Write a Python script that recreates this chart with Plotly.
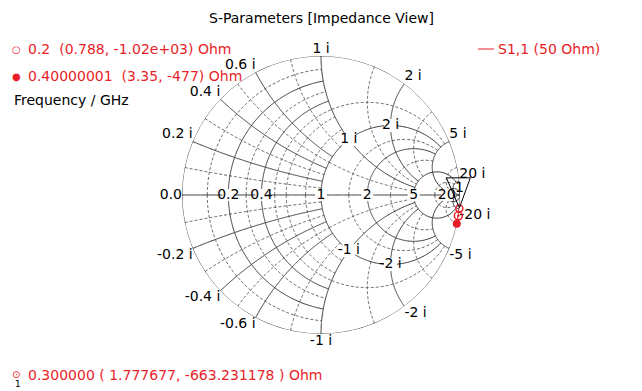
import numpy as np
import plotly.graph_objects as go

# ---------------- data ----------------
Z0 = 50.0
freq_ghz = [0.2, 0.3, 0.4]
freq_label = ["0.2", "0.300000", "0.40000001"]
res_ohm = [0.788, 1.777677, 3.35]
reac_ohm = [-1020.0, -663.231178, -477.0]

real_ticks = [0.2, 0.4, 1, 2, 5, 20]
imag_ticks = [0.2, 0.4, 0.6, 1, 2, 5, 20]
inner_imag_ticks = [1, 2]

INF = 1e6
# grid arcs: (value, lo, hi) -> r circle drawn for lo<=|x|<=hi ; x arc drawn for lo<=r<=hi
r_solid = [(0.2, 0, 1), (0.4, 0, 1), (1, 0, 5), (2, 0, 5), (5, 0, 20), (20, 0, INF)]
x_solid = [(0.2, 0, 1), (0.4, 0, 1), (0.6, 0, 1), (1, 0, 5), (2, 0, 5), (5, 0, 20), (20, 0, INF)]
r_dash = [(0.1, 0, 1), (0.3, 0, 1), (0.5, 0, 1), (0.6, 0, 1), (0.8, 0, 1),
          (0.5, 1, 5), (1.5, 0, 5), (3, 0, 5), (10, 0, 20)]
x_dash = [(0.1, 0, 1), (0.3, 0, 1), (0.5, 0, 1), (0.8, 0, 1),
          (0.5, 1, 5), (1.5, 0, 5), (3, 0, 5), (10, 0, 20)]

RED = "rgb(232,30,40)"
GRID = "rgb(60,60,60)"
FONT = "DejaVu Sans"
FS = 14


def r_arc(r, lo, hi, n=160):
    re, im = [], []
    for s in (1, -1):
        t = np.linspace(np.arctan(lo), np.arctan(hi), n)
        re += list(np.full(n, float(r))) + [None]
        im += list(s * np.tan(t)) + [None]
    return re, im


def x_arc(x, lo, hi, n=160):
    re, im = [], []
    for s in (1, -1):
        t = np.linspace(np.arctan(lo), np.arctan(hi), n)
        re += list(np.tan(t)) + [None]
        im += list(np.full(n, s * float(x))) + [None]
    return re, im


def collect(rs, xs):
    RE, IM = [], []
    for v, lo, hi in rs:
        a, b = r_arc(v, lo, hi)
        RE += a; IM += b
    for v, lo, hi in xs:
        a, b = x_arc(v, lo, hi)
        RE += a; IM += b
    return RE, IM


fig = go.Figure()

dre, dim = collect(r_dash, x_dash)
fig.add_trace(go.Scattersmith(real=dre, imag=dim, mode="lines",
                              line=dict(color=GRID, width=0.8, dash="3px,2px"),
                              hoverinfo="skip"))
sre, sim = collect(r_solid + [(0, 0, INF)], x_solid)
# real axis
sre += list(np.tan(np.linspace(0, np.arctan(INF), 200))) + [None]
sim += [0.0] * 200 + [None]
fig.add_trace(go.Scattersmith(real=sre, imag=sim, mode="lines",
                              line=dict(color=GRID, width=1), hoverinfo="skip"))

# real-axis labels
fig.add_trace(go.Scattersmith(real=real_ticks, imag=[0] * len(real_ticks), mode="markers+text",
                              text=[f"{v:g}" for v in real_ticks], textposition="middle center",
                              marker=dict(symbol="square", color="white", size=12),
                              textfont=dict(family=FONT, size=FS, color="black"),
                              cliponaxis=False, hoverinfo="skip"))
fig.add_trace(go.Scattersmith(real=[0], imag=[0], mode="text", text=["0.0"],
                              textposition="middle left", cliponaxis=False,
                              textfont=dict(family=FONT, size=FS, color="black"), hoverinfo="skip"))

# outer imaginary labels
im_vals = imag_ticks + [-v for v in imag_ticks]
pos = []
for v in im_vals:
    side = "top" if v > 0 else "bottom"
    if abs(v) < 1:
        pos.append(side + " left")
    elif abs(v) == 1:
        pos.append(side + " center")
    else:
        pos.append(side + " right")
fig.add_trace(go.Scattersmith(real=[0] * len(im_vals), imag=im_vals, mode="text",
                              text=[f"{v:g} i" for v in im_vals], textposition=pos,
                              textfont=dict(family=FONT, size=FS, color="black"),
                              cliponaxis=False, hoverinfo="skip"))
# inner imaginary labels
in_vals = inner_imag_ticks + [-v for v in inner_imag_ticks]
fig.add_trace(go.Scattersmith(real=[1] * len(in_vals), imag=in_vals, mode="markers+text",
                              text=[f"{v:g} i" for v in in_vals], textposition="middle center",
                              marker=dict(symbol="square", color="white", size=13),
                              textfont=dict(family=FONT, size=FS, color="black"),
                              hoverinfo="skip"))

# S11 curve
zr = [v / Z0 for v in res_ohm]
zi = [v / Z0 for v in reac_ohm]
fig.add_trace(go.Scattersmith(real=zr, imag=zi, mode="lines", cliponaxis=False,
                              line=dict(color=RED, width=1.5), hoverinfo="skip"))
fig.add_trace(go.Scattersmith(real=[zr[0]], imag=[zi[0]], mode="markers", cliponaxis=False,
                              marker=dict(symbol="circle-open", color=RED, size=7, line=dict(width=1.5)),
                              hoverinfo="skip"))
fig.add_trace(go.Scattersmith(real=[zr[1]], imag=[zi[1]], mode="markers", cliponaxis=False,
                              marker=dict(symbol="circle-open-dot", color=RED, size=8, line=dict(width=1.5)),
                              hoverinfo="skip"))
fig.add_trace(go.Scattersmith(real=[zr[2]], imag=[zi[2]], mode="markers", cliponaxis=False,
                              marker=dict(symbol="circle", color=RED, size=8),
                              hoverinfo="skip"))

cx, cy, R = 321, 195, 139
W, H = 642, 391
fig.update_layout(
    width=W, height=H, margin=dict(l=0, r=0, t=0, b=0),
    paper_bgcolor="white", showlegend=False,
    smith=dict(
        domain=dict(x=[(cx - R) / W, (cx + R) / W], y=[(H - cy - R) / H, (H - cy + R) / H]),
        bgcolor="white",
        realaxis=dict(showgrid=False, showticklabels=False, showline=False, ticks=""),
        imaginaryaxis=dict(showgrid=False, showticklabels=False, showline=False, ticks=""),
    ),
)

# marker-1 flag: a downward triangle anchored above the 0.3 GHz point
z1 = complex(zr[1], zi[1])
g1 = (z1 - 1) / (z1 + 1)
mx, my = cx + R * g1.real, cy - R * g1.imag
tri = [(-12, -38), (12, -38), (1, -8)]
path = "M " + " L ".join(f"{(mx + dx) / W:.5f},{1 - (my + dy) / H:.5f}" for dx, dy in tri) + " Z"
fig.add_shape(type="path", xref="paper", yref="paper", path=path,
              line=dict(color="black", width=1), fillcolor="rgba(0,0,0,0)")


def px_note(x, y, text, color="black", size=FS, anchor="left"):
    fig.add_annotation(x=x / W, y=1 - y / H, xref="paper", yref="paper", text=text,
                       showarrow=False, xanchor=anchor, yanchor="middle",
                       font=dict(family=FONT, size=size, color=color))


px_note(mx + 1, my - 29, "1", anchor="center")
px_note(cx, 18, "S-Parameters [Impedance View]", size=14, anchor="center")
px_note(10, 49, "○", color=RED, size=10)
px_note(26, 49, f"{freq_label[0]}\u00a0\u00a0({res_ohm[0]:.3g}, {reac_ohm[0]:.3g}) Ohm", color=RED)
px_note(10, 76, "●", color=RED, size=10)
px_note(26, 76, f"{freq_label[2]}\u00a0\u00a0({res_ohm[2]:.3g}, {reac_ohm[2]:.3g}) Ohm", color=RED)
px_note(12, 100, "Frequency / GHz")
fig.add_shape(type="line", xref="paper", yref="paper", x0=478 / W, x1=494 / W,
              y0=1 - 49 / H, y1=1 - 49 / H, line=dict(color=RED, width=1))
px_note(496, 49, "S1,1 (50 Ohm)", color=RED)
px_note(10, 374, "⊙", color=RED, size=10)
px_note(13, 384, "1", size=9)
px_note(26, 375, f"{freq_label[1]} ( {res_ohm[1]:.6f}, {reac_ohm[1]:.6f} ) Ohm", color=RED)

fig.write_html("out.html", config={"displayModeBar": False},
               post_script="document.body.style.margin='0px';")
